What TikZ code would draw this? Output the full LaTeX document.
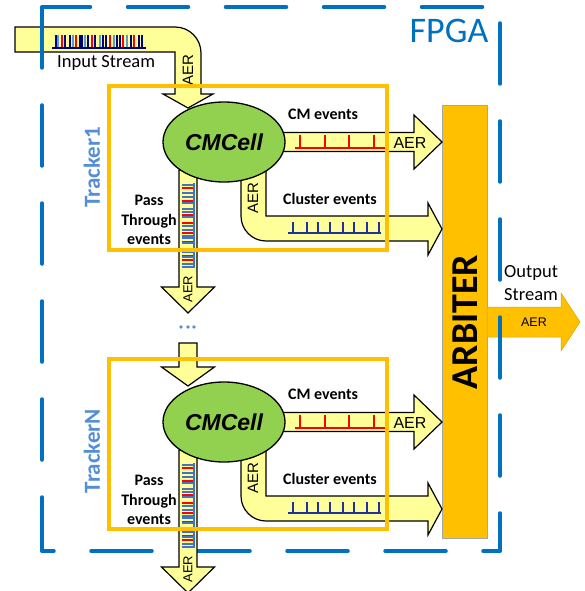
\documentclass[tikz,border=0pt]{standalone}
\usepackage{fontspec}
\setmainfont{Carlito}
\newfontfamily\arialf{Liberation Sans}
\usetikzlibrary{shapes.geometric}
\definecolor{yfill}{HTML}{FFFF99}
\definecolor{cmgreen}{HTML}{92D050}
\definecolor{orng}{HTML}{FFC000}
\definecolor{fpgablue}{HTML}{0070C0}
\definecolor{trkblue}{HTML}{558ED5}
\definecolor{navyt}{HTML}{00007F}
\definecolor{ltb}{HTML}{5B9BD5}
\definecolor{ptb}{HTML}{4472C4}
\definecolor{clb}{HTML}{2030A0}
\definecolor{tred}{HTML}{FF0000}
\begin{document}
\begin{tikzpicture}[x=1pt,y=-1pt,
  yarrow/.style={fill=yfill,draw=black,line width=1.2pt,line join=miter},
  aer/.style={font=\arialf\fontsize{15}{15}\selectfont,inner sep=0pt},
  evlbl/.style={font=\bfseries\fontsize{16}{19.5}\selectfont,align=center,inner sep=0pt},
  plainlbl/.style={font=\fontsize{18.5}{23}\selectfont,inner sep=0pt},
  trk/.style={draw=orng,line width=4pt},
  dashb/.style={draw=fpgablue,line width=3.5pt,line cap=round,dash pattern=on 61pt off 37pt},
  trklbl/.style={font=\bfseries\fontsize{23}{23}\selectfont,text=trkblue,inner sep=0pt,rotate=90},
  cmcell/.style={ellipse,draw=black,line width=1.3pt,fill=cmgreen,minimum width=122pt,minimum height=80pt,inner sep=0pt,font=\arialf\bfseries\itshape\fontsize{23}{23}\selectfont}
]
\useasboundingbox (0,0) rectangle (585,591);

% ---------- input stream ----------
\draw[yarrow] (15,27) -- (175,27) .. controls (189.4,27) and (201,38.6) .. (201,53)
  -- (201,94) -- (213,94) -- (188,108) -- (163,94) -- (175,94) -- (175,52) -- (15,52) -- cycle;
\foreach \x/\c in {56/navyt,58/ltb,62/tred,65/navyt,70/navyt,73/ltb,76/tred,80/navyt,82/navyt,85/ltb,88/navyt,92/tred,95/navyt,100/ltb,103/navyt,106/navyt,110/tred,114/ltb,117/navyt,120/navyt,123/tred,127/ltb,131/navyt,134/tred,139/navyt,142/navyt}
  \draw[\c,line width=2pt] (\x,48) -- (\x,35);
\draw[navyt,line width=1.6pt] (52,48) -- (146,48);
\node[plainlbl,anchor=base west] (instream) at (57,68) {Input Stream};
\node[aer,rotate=90] (aerin) at (188,70) {AER};

% ---------- arbiter and output ----------
\node[draw=gray!70,line width=0.8pt,fill=orng,minimum width=45pt,minimum height=433pt,inner sep=0pt] (arb) at (464.5,321.5) {};
\node[font=\bfseries\fontsize{38}{38}\selectfont,rotate=90,inner sep=0pt] (arbtxt) at (465,322) {ARBITER};
\draw[fill=orng,draw=orng!85!black,line width=0.5pt] (487,307) -- (561,307) -- (561,293) -- (580,322) -- (561,351) -- (561,337) -- (487,337) -- cycle;
\node[aer,font=\arialf\fontsize{12.5}{12.5}\selectfont] (aerout) at (534,322) {AER};
\node[plainlbl,anchor=north west,align=left] (outstream) at (504,265) {Output\\Stream};

% ---------- FPGA border ----------
\draw[dashb,dash phase=12.5pt] (42,7) -- (500,7);
\draw[dashb,dash phase=82pt] (500,7) -- (500,551);
\draw[dashb,dash phase=44pt] (500,551) -- (42,551);
\draw[dashb] (42,7) -- (42,551);
\node[text=fpgablue,inner sep=0pt,font=\fontsize{36}{36}\selectfont] (fpga) at (449,31) {FPGA};

% ---------- between trackers ----------
\foreach \x in {181,188,194} \fill[trkblue] (\x,327) circle (1.8);
\draw[yarrow] (179,343) -- (179,367) -- (161.5,367) -- (188,386) -- (214.5,367) -- (197,367) -- (197,343) -- cycle;

% ---------- trackers ----------
\foreach \d in {0,280}{
\begin{scope}[shift={(0,\d)}]
  % CM events
  \draw[yarrow] (270,132.5) -- (414,132.5) -- (414,115) -- (442,142) -- (414,169) -- (414,151.5) -- (270,151.5) -- cycle;
  \draw[tred,line width=1.2pt] (295,148) -- (386,148);
  \foreach \x in {300,325,349,374} \draw[tred,line width=1.2pt] (\x,148) -- (\x,135);
  \node[evlbl] at (323,114) {CM events};
  \node[aer,font=\arialf\fontsize{16}{16}\selectfont] at (410,143) {AER};
  % cluster events
  \draw[yarrow] (266,160) -- (266,216) -- (428,216) -- (428,203) -- (442,229) -- (428,255) -- (428,241) -- (266,241)
     .. controls (252.2,241) and (241,229.8) .. (241,216) -- (241,160) -- cycle;
  \draw[clb,line width=1.2pt] (288,233) -- (381,233);
  \foreach \x in {293,307,318,330,343,354,367,379} \draw[clb,line width=1.2pt] (\x,233) -- (\x,222);
  \node[evlbl] at (330,199) {Cluster events};
  \node[aer,rotate=90] at (253,198) {AER};
  % pass through
  \draw[yarrow] (179,170) -- (179,287) -- (161.5,287) -- (188,313) -- (214.5,287) -- (197,287) -- (197,170) -- cycle;
  \foreach \o/\c in {0/ptb,3/tred,8/ptb,12/ptb,16/tred,18/ptb,24/ptb,27/ptb,30/tred,32/ptb,38/tred,41/ptb,45/ptb,48/tred,51/ptb,53/ptb,57/tred,58/ptb,64/ptb,67/ptb,71/tred,72/ptb,75/tred,79/ptb,82/ptb}
    \draw[\c,line width=1.2pt] (182,185+\o) -- (194,185+\o);
  \draw[ptb,line width=1.2pt] (194,183) -- (194,268);
  \node[aer,font=\arialf\fontsize{13}{13}\selectfont,rotate=90] at (188,289) {AER};
  \node[evlbl] at (149,220) {Pass\\Through\\events};
  % cell
  \node[cmcell] at (224,142) {CMCell};
\end{scope}
}
\node[trklbl] (trk1) at (92,167) {Tracker1};
\node[trklbl] (trkN) at (92,451) {TrackerN};

% ---------- tracker boxes ----------
\draw[trk] (109,86) rectangle (387,250);
\draw[trk] (109,359) rectangle (387,529);
\end{tikzpicture}
\end{document}
